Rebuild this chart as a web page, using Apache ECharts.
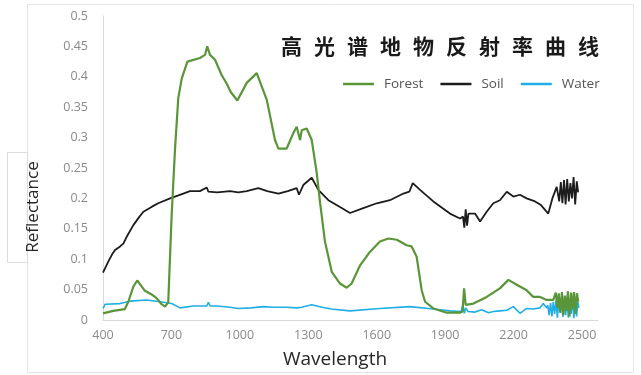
<!DOCTYPE html>
<html>
<head>
<meta charset="utf-8">
<script src="https://cdn.jsdelivr.net/npm/echarts@6/dist/echarts.min.js"></script>
<style>
  html, body { margin: 0; padding: 0; background: #fff; }
  #chart { width: 641px; height: 375px; }
</style>
</head>
<body>
<div id="chart"></div>
<script>
// Hyperspectral reflectance curves of three ground covers
const titleText = '高光谱地物反射率曲线';
const seriesNames = ['Forest', 'Soil', 'Water'];
const xTicks = [400, 700, 1000, 1300, 1600, 1900, 2200, 2500];

// Forest (vegetation) spectrum
const forestWl = [400, 445, 496, 511, 533, 550, 570, 584, 613, 635, 657, 672, 686, 701, 716, 730, 745, 770,
  825, 847, 857, 869, 891, 920, 942, 960, 989, 1030, 1074, 1118, 1154, 1169, 1205, 1234, 1249, 1264, 1271,
  1293, 1315, 1337, 1351, 1373, 1403, 1439, 1468, 1490, 1527, 1570, 1614, 1651, 1688, 1731, 1753, 1775,
  1797, 1812, 1848, 1907, 1965, 1976, 1983, 1990, 2024, 2082, 2140, 2177, 2214, 2257, 2286, 2316, 2345,
  2374, 2385, 2392, 2398, 2405, 2412, 2418, 2425, 2432, 2438, 2445, 2452, 2458, 2465, 2472, 2478, 2483];
const forestR = [0.011, 0.015, 0.018, 0.030, 0.055, 0.065, 0.055, 0.048, 0.042, 0.036, 0.026, 0.022, 0.029,
  0.173, 0.283, 0.365, 0.397, 0.425, 0.431, 0.436, 0.450, 0.436, 0.428, 0.403, 0.389, 0.375, 0.361, 0.390,
  0.406, 0.362, 0.296, 0.282, 0.282, 0.307, 0.318, 0.296, 0.312, 0.315, 0.296, 0.242, 0.195, 0.129, 0.079,
  0.060, 0.053, 0.060, 0.090, 0.112, 0.129, 0.134, 0.132, 0.123, 0.121, 0.104, 0.049, 0.030, 0.019, 0.012,
  0.012, 0.014, 0.052, 0.025, 0.027, 0.038, 0.052, 0.066, 0.058, 0.049, 0.038, 0.038, 0.033, 0.033, 0.045,
  0.020, 0.044, 0.012, 0.046, 0.008, 0.040, 0.015, 0.047, 0.006, 0.045, 0.018, 0.046, 0.010, 0.044, 0.030];

// Soil spectrum
const soilWl = [400, 404, 423, 440, 453, 475, 490, 504, 533, 560, 577, 613, 642, 694, 752, 781, 825, 855, 862,
  900, 957, 993, 1030, 1081, 1120, 1169, 1210, 1249, 1259, 1278, 1315, 1344, 1388, 1439, 1483, 1541, 1600,
  1658, 1717, 1743, 1758, 1790, 1848, 1921, 1965, 1978, 1984, 1990, 1996, 2002, 2031, 2053, 2082, 2111,
  2140, 2170, 2199, 2228, 2257, 2294, 2320, 2352, 2370, 2389, 2400, 2407, 2414, 2421, 2428, 2435, 2442,
  2449, 2456, 2463, 2470, 2477, 2483];
const soilR = [0.078, 0.080, 0.096, 0.108, 0.115, 0.121, 0.126, 0.137, 0.156, 0.170, 0.178, 0.186, 0.192,
  0.200, 0.208, 0.212, 0.212, 0.218, 0.211, 0.210, 0.212, 0.210, 0.212, 0.217, 0.212, 0.208, 0.212, 0.217,
  0.206, 0.222, 0.234, 0.214, 0.197, 0.186, 0.176, 0.184, 0.192, 0.197, 0.208, 0.211, 0.225, 0.214, 0.195,
  0.175, 0.167, 0.170, 0.152, 0.182, 0.155, 0.175, 0.175, 0.162, 0.178, 0.192, 0.197, 0.211, 0.203, 0.206,
  0.200, 0.195, 0.189, 0.175, 0.200, 0.219, 0.195, 0.227, 0.192, 0.230, 0.190, 0.232, 0.195, 0.225, 0.200,
  0.235, 0.190, 0.228, 0.210];

// Water spectrum
const waterWl = [400, 410, 475, 518, 592, 650, 701, 738, 796, 855, 862, 870, 900, 957, 993, 1050, 1100, 1150,
  1200, 1250, 1271, 1315, 1360, 1400, 1483, 1614, 1745, 1848, 1921, 1970, 1978, 1984, 1990, 2000, 2031,
  2060, 2090, 2111, 2140, 2170, 2199, 2228, 2257, 2286, 2316, 2330, 2345, 2350, 2356, 2362, 2368, 2374,
  2380, 2386, 2392, 2398, 2404, 2410, 2416, 2422, 2428, 2434, 2440, 2446, 2452, 2458, 2464, 2470, 2476,
  2482, 2486];
const waterR = [0.019, 0.026, 0.027, 0.031, 0.033, 0.030, 0.027, 0.020, 0.023, 0.023, 0.029, 0.023, 0.023,
  0.021, 0.019, 0.020, 0.022, 0.021, 0.021, 0.020, 0.021, 0.025, 0.021, 0.018, 0.015, 0.019, 0.022, 0.018,
  0.015, 0.014, 0.025, 0.011, 0.020, 0.014, 0.013, 0.017, 0.012, 0.014, 0.015, 0.016, 0.022, 0.011, 0.019,
  0.018, 0.020, 0.027, 0.020, 0.024, 0.008, 0.028, 0.006, 0.030, 0.010, 0.032, 0.004, 0.030, 0.012, 0.033,
  0.005, 0.031, 0.008, 0.033, 0.004, 0.030, 0.010, 0.034, 0.003, 0.032, 0.006, 0.030, 0.020];

const pairs = (xs, ys) => xs.map((x, i) => [x, ys[i]]);
const colors = ['#5a9639', '#1c1c1c', '#1faee6'];
const widths = [2.2, 1.8, 1.6];

const labelFont = '"Open Sans", "DejaVu Sans", sans-serif';

const chart = echarts.init(document.getElementById('chart'), null, { renderer: 'canvas' });
chart.setOption({
  animation: false,
  backgroundColor: '#ffffff',
  title: {
    text: titleText.split('').map(c => '{c|' + c + '}').join(''),
    left: 270,
    top: 29,
    textStyle: {
      rich: {
        c: {
          width: 33, align: 'center', fontSize: 21, fontWeight: 'bold',
          fontFamily: '"Noto Sans CJK SC", sans-serif', color: '#1a1a1a', lineHeight: 24
        }
      }
    }
  },
  legend: {
    left: 338,
    top: 72,
    icon: 'rect',
    itemWidth: 31,
    itemHeight: 2.5,
    itemGap: 17,
    textStyle: { fontFamily: labelFont, fontSize: 13.5, color: '#555', padding: [0, 0, 0, 5] },
    data: [
      { name: 'Forest' },
      { name: 'Soil', textStyle: { padding: [0, 13, 0, 5] } },
      { name: 'Water' }
    ]
  },
  grid: { left: 103, right: 43, top: 16, bottom: 55, containLabel: false },
  xAxis: {
    type: 'value',
    min: xTicks[0],
    max: 2570,
    interval: 300,
    axisLine: { show: true, lineStyle: { color: '#d9d9d9', width: 1 } },
    axisTick: { show: false },
    splitLine: { show: false },
    axisLabel: {
      color: '#8a8a8a', fontSize: 12.5, fontFamily: labelFont, margin: 9,
      showMaxLabel: false,
      formatter: v => (xTicks.indexOf(v) >= 0 ? String(v) : '')
    }
  },
  yAxis: {
    type: 'value',
    min: 0,
    max: 0.5,
    interval: 0.05,
    axisLine: { show: true, lineStyle: { color: '#d9d9d9', width: 1 } },
    axisTick: { show: false },
    splitLine: { show: false },
    axisLabel: {
      color: '#8a8a8a', fontSize: 12.5, fontFamily: labelFont, margin: 15,
      formatter: v => String(Math.round(v * 100) / 100)
    }
  },
  graphic: [
    {
      type: 'rect', z: -1, silent: true,
      shape: { x: 27.5, y: 4.5, width: 606, height: 368 },
      style: { fill: 'none', stroke: '#e6e6e6', lineWidth: 1 }
    },
    {
      type: 'rect', z: 0, silent: true,
      shape: { x: 7.5, y: 152.5, width: 20, height: 110 },
      style: { fill: '#ffffff', stroke: '#dcdcdc', lineWidth: 1 }
    },
    {
      type: 'text', z: 10, silent: true,
      x: 33, y: 207, rotation: Math.PI / 2,
      style: {
        text: 'Reflectance', fontSize: 17, fontFamily: labelFont, fill: '#262626',
        align: 'center', verticalAlign: 'middle'
      }
    },
    {
      type: 'text', z: 10, silent: true,
      x: 335, y: 360,
      style: {
        text: 'Wavelength', fontSize: 19, fontFamily: labelFont, fill: '#262626',
        align: 'center', verticalAlign: 'middle'
      }
    }
  ],
  series: [
    { name: seriesNames[0], data: pairs(forestWl, forestR) },
    { name: seriesNames[1], data: pairs(soilWl, soilR) },
    { name: seriesNames[2], data: pairs(waterWl, waterR) }
  ].map((s, i) => ({
    ...s,
    type: 'line',
    showSymbol: false,
    symbol: 'none',
    color: colors[i],
    lineStyle: { color: colors[i], width: widths[i] },
    z: 3 - i
  }))
});
</script>
</body>
</html>
